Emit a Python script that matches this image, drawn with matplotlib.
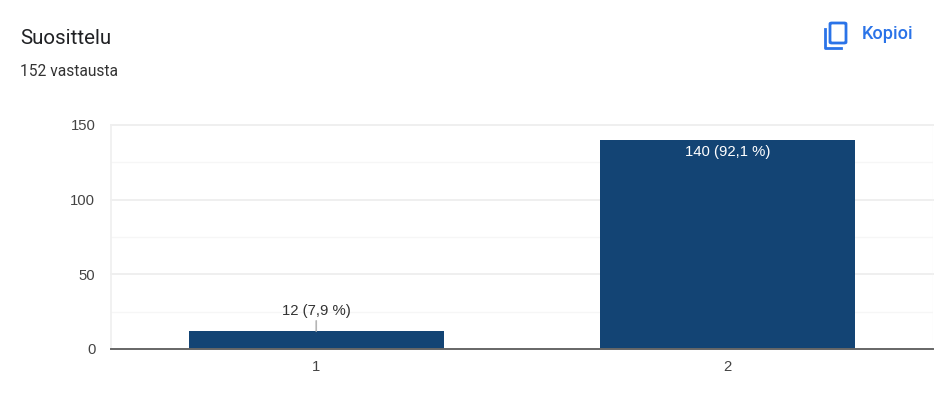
import matplotlib
matplotlib.use("Agg")
import matplotlib.pyplot as plt
from matplotlib.patches import FancyBboxPatch
from matplotlib.lines import Line2D

categories = ["1", "2"]
values = [12, 140]
bar_labels = ["12 (7,9 %)", "140 (92,1 %)"]
y_ticks = [0, 50, 100, 150]
y_minor = [25, 75, 125]

W, H = 936, 407
BAR = "#134474"
BLUE = "#2a73e8"

fig = plt.figure(figsize=(W / 100, H / 100), dpi=100)
ax = fig.add_axes([110.6 / W, 1 - 349 / H, 822.5 / W, 224 / H])

x = range(len(categories))
ax.bar(x, values, width=0.62, color=BAR, zorder=3)
ax.set_xlim(-0.5, 1.5)
ax.set_ylim(0, 150)

ax.set_xticks(list(x), categories)
ax.set_yticks(y_ticks)
ax.tick_params(length=0, labelsize=10.7, labelcolor="#444444", labelfontfamily="Liberation Sans")
ax.tick_params(axis="x", pad=8)
ax.tick_params(axis="y", pad=11)

for y in y_ticks[1:]:
    ax.axhline(y, color="#efefef", lw=1.4, zorder=1, clip_on=False)
for y in y_minor:
    ax.axhline(y, color="#f6f6f6", lw=1, zorder=1)

for s in ["top", "right"]:
    ax.spines[s].set_visible(False)
ax.spines["left"].set_color("#efefef")
ax.spines["left"].set_linewidth(1.2)
ax.spines["bottom"].set_color("#666666")
ax.spines["bottom"].set_linewidth(1.4)
ax.spines["bottom"].set_zorder(5)
ax.axvline(1.5, color="#f6f6f6", lw=1, zorder=1)

# value labels, small one sits above the bar with a leader line
ax.annotate(bar_labels[0], (0, values[0]), xytext=(0, 13), textcoords="offset pixels",
            ha="center", va="bottom", fontsize=10.7, color="#333333", family="Liberation Sans",
            arrowprops=dict(arrowstyle="-", color="#b5b5b5", lw=1.2, shrinkA=0, shrinkB=0))
ax.text(1, values[1] - 3.6, bar_labels[1], ha="center", va="top", fontsize=10.7, color="white",
        family="Liberation Sans", zorder=4)

fig.text(20 / W, 1 - 38 / H, "Suosittelu", fontsize=14.8, family="Roboto", color="#202124", va="center")
fig.text(20 / W, 1 - 72 / H, "152 vastausta", fontsize=11.2, family="Roboto", color="#333333", va="center")
fig.text(862 / W, 1 - 34 / H, "Kopioi", fontsize=13, family="Roboto", weight="medium", color=BLUE, va="center")

# copy icon
fig.add_artist(FancyBboxPatch((830 / W, 1 - 43 / H), 16 / W, 20 / H, boxstyle="round,pad=0,rounding_size=0.002",
                              fc="none", ec=BLUE, lw=2, transform=fig.transFigure))
fig.add_artist(Line2D([825 / W, 825 / W, 841 / W], [1 - 29 / H, 1 - 48 / H, 1 - 48 / H], color=BLUE, lw=2))

fig.savefig("out.png", dpi=100)
